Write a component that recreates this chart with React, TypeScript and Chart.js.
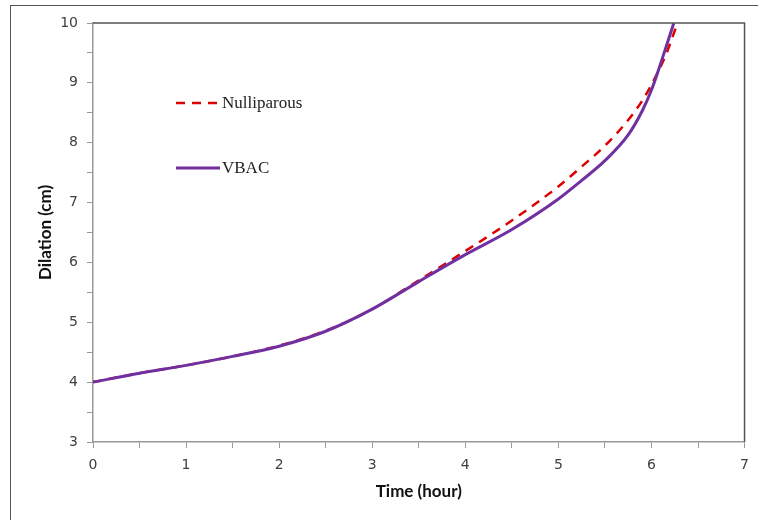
import React, { useEffect, useRef } from "react";
import { Chart, registerables } from "chart.js";

Chart.register(...registerables);

const seriesLabels = ["Nulliparous", "VBAC"];
const nulliTime = [0, 0.5, 1, 1.5, 2, 2.5, 3, 3.5, 4, 4.5, 5, 5.25, 5.5, 5.75, 5.9, 6.0, 6.15, 6.28];
const nulliDilation = [4.0, 4.15, 4.28, 4.43, 4.61, 4.86, 5.22, 5.7, 6.19, 6.7, 7.27, 7.6, 7.95, 8.38, 8.7, 8.97, 9.45, 10.0];
const vbacTime = [0, 0.5, 1, 1.5, 2, 2.5, 3, 3.5, 4, 4.5, 5, 5.25, 5.5, 5.75, 5.9, 6.0, 6.1, 6.24];
const vbacDilation = [4.0, 4.15, 4.28, 4.43, 4.6, 4.85, 5.22, 5.68, 6.13, 6.55, 7.06, 7.37, 7.7, 8.13, 8.53, 8.88, 9.33, 10.0];
const xRange = [0, 7];
const yRange = [3, 10];

const legendPlugin = {
  id: "insideLegend",
  afterDraw(chart: any) {
    const ctx = chart.ctx;
    const items = [
      { y: 103, ds: chart.data.datasets[0] },
      { y: 168, ds: chart.data.datasets[1] },
    ];
    ctx.save();
    items.forEach((it) => {
      ctx.beginPath();
      ctx.strokeStyle = it.ds.borderColor;
      ctx.lineWidth = it.ds.borderWidth;
      ctx.setLineDash(it.ds.borderDash || []);
      ctx.moveTo(176, it.y);
      ctx.lineTo(220, it.y);
      ctx.stroke();
      ctx.setLineDash([]);
      ctx.fillStyle = "#222";
      ctx.font = "17px 'Liberation Serif', 'Times New Roman', serif";
      ctx.textBaseline = "middle";
      ctx.fillText(it.ds.label, 222, it.y + 1);
    });
    const a = chart.chartArea;
    ctx.beginPath();
    ctx.strokeStyle = "#555";
    ctx.lineWidth = 1.5;
    ctx.moveTo(a.left, a.top);
    ctx.lineTo(a.right, a.top);
    ctx.lineTo(a.right, a.bottom);
    ctx.stroke();
    ctx.restore();
  },
};

export default function App() {
  const ref = useRef<HTMLCanvasElement | null>(null);
  useEffect(() => {
    if (!ref.current) return;
    const tickFont = { family: "'DejaVu Sans', Verdana, sans-serif", size: 14 };
    const titleFont = { family: "Lato, Calibri, sans-serif", size: 17, weight: "bold" as const };
    const chart = new Chart(ref.current, {
      type: "line",
      data: {
        datasets: [
          {
            label: seriesLabels[0],
            data: nulliTime.map((t, i) => ({ x: t, y: nulliDilation[i] })),
            borderColor: "#dd0000",
            borderWidth: 2.5,
            borderDash: [9, 7],
            pointRadius: 0,
            cubicInterpolationMode: "monotone",
            fill: false,
            order: 2,
          },
          {
            label: seriesLabels[1],
            data: vbacTime.map((t, i) => ({ x: t, y: vbacDilation[i] })),
            borderColor: "#7030a0",
            borderWidth: 3,
            pointRadius: 0,
            cubicInterpolationMode: "monotone",
            fill: false,
            order: 1,
          },
        ],
      },
      options: {
        responsive: false,
        animation: false,
        layout: { padding: { left: 0, right: 13, top: 23, bottom: 0 } },
        plugins: { legend: { display: false }, tooltip: { enabled: false } },
        scales: {
          x: {
            type: "linear",
            min: xRange[0],
            max: xRange[1],
            afterFit: (s: any) => {
              s.height = 78;
            },
            ticks: {
              stepSize: 0.5,
              autoSkip: false,
              maxRotation: 0,
              color: "#404040",
              font: tickFont,
              padding: 9,
              callback: (v: any) => (Number(v) % 1 === 0 ? String(v) : ""),
            },
            grid: { drawOnChartArea: false, drawTicks: true, tickLength: 6, color: "#999" },
            border: { display: true, color: "#999", width: 1.5 },
            title: {
              display: true,
              text: "Time (hour)",
              color: "#111",
              font: titleFont,
              padding: { top: 0, bottom: 18 },
            },
          },
          y: {
            type: "linear",
            min: yRange[0],
            max: yRange[1],
            afterFit: (s: any) => {
              s.width = 93;
            },
            ticks: {
              stepSize: 0.5,
              autoSkip: false,
              color: "#404040",
              font: tickFont,
              padding: 9,
              callback: (v: any) => (Number(v) % 1 === 0 ? String(v) : ""),
            },
            grid: { drawOnChartArea: false, drawTicks: true, tickLength: 6, color: "#999" },
            border: { display: true, color: "#999", width: 1.5 },
            title: {
              display: true,
              text: "Dilation (cm)",
              color: "#111",
              font: titleFont,
              padding: { top: 35, bottom: 0 },
            },
          },
        },
      },
      plugins: [legendPlugin],
    });
    return () => chart.destroy();
  }, []);

  return (
    <div
      style={{
        position: "absolute",
        left: 0,
        top: 0,
        width: 758,
        height: 520,
        overflow: "hidden",
        background: "#fff",
      }}
    >
      <div
        style={{
          position: "absolute",
          left: 10,
          top: 5,
          width: 800,
          height: 600,
          border: "1.5px solid #555",
        }}
      />
      <canvas ref={ref} width={758} height={520} style={{ position: "absolute", left: 0, top: 0 }} />
    </div>
  );
}
